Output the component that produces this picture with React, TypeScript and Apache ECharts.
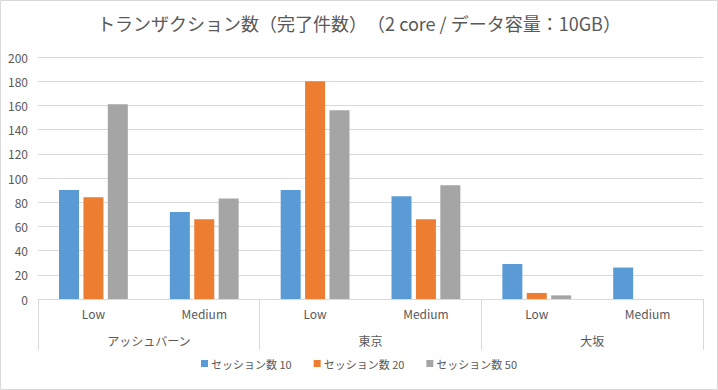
import React, { useEffect, useRef } from "react";
import * as echarts from "echarts";

const subCategories = ["Low", "Medium", "Low", "Medium", "Low", "Medium"];
const groups = ["アッシュバーン", "東京", "大坂"];
const seriesNames = ["セッション数 10", "セッション数 20", "セッション数 50"];
const session10 = [90, 72, 90, 85, 29, 26];
const session20 = [84, 66, 180, 66, 5, 0];
const session50 = [161, 83, 156, 94, 3, 0];
const colors = ["#5B9BD5", "#ED7D31", "#A5A5A5"];

const FONT = "'Noto Sans CJK JP', 'Noto Sans', sans-serif";
const TEXT = "#595959";
const LINE = "#d9d9d9";

export default function App() {
  const ref = useRef<HTMLDivElement>(null);
  useEffect(() => {
    document.body.style.margin = "0";
    if (!ref.current) return;
    const chart = echarts.init(ref.current, undefined, { renderer: "svg" });
    const data = [session10, session20, session50];
    chart.setOption({
      animation: false,
      backgroundColor: "#ffffff",
      title: {
        text: "トランザクション数（完了件数）　（2 core / データ容量：10GB）",
        left: "center",
        top: 9,
        textStyle: { fontFamily: FONT, fontSize: 18, fontWeight: "normal", color: TEXT },
      },
      graphic: [
        {
          type: "rect",
          shape: { x: 0.5, y: 0.5, width: 717, height: 389 },
          style: { fill: "none", stroke: LINE, lineWidth: 1 },
          silent: true,
        },
      ],
      legend: {
        data: seriesNames,
        bottom: 16,
        left: "center",
        icon: "rect",
        itemWidth: 7,
        itemHeight: 7,
        itemGap: 22,
        textStyle: { fontFamily: FONT, fontSize: 11, color: TEXT, padding: [0, 0, 0, -2] },
      },
      grid: { left: 38, right: 15, top: 57, bottom: 91, containLabel: false },
      xAxis: [
        {
          type: "category",
          data: subCategories,
          position: "bottom",
          axisLine: { show: true, lineStyle: { color: LINE } },
          axisTick: { show: false },
          axisLabel: { margin: 8, interval: 0, fontFamily: FONT, fontSize: 12, color: TEXT },
        },
        {
          type: "category",
          data: groups,
          position: "bottom",
          axisLine: { show: false },
          axisTick: { show: true, length: 51, interval: 0, lineStyle: { color: LINE } },
          axisLabel: { margin: 35, interval: 0, fontFamily: FONT, fontSize: 12, color: TEXT },
        },
      ],
      yAxis: {
        type: "value",
        min: 0,
        max: 200,
        interval: 20,
        axisLine: { show: false },
        axisTick: { show: false },
        axisLabel: { margin: 10, fontFamily: FONT, fontSize: 12, color: TEXT },
        splitLine: { lineStyle: { color: LINE } },
      },
      series: seriesNames.map((name, i) => ({
        name,
        type: "bar",
        xAxisIndex: 0,
        data: data[i],
        barWidth: 20,
        barGap: "22%",
        itemStyle: { color: colors[i] },
      })),
    });
    return () => chart.dispose();
  }, []);
  return <div ref={ref} style={{ width: 718, height: 390 }} />;
}
